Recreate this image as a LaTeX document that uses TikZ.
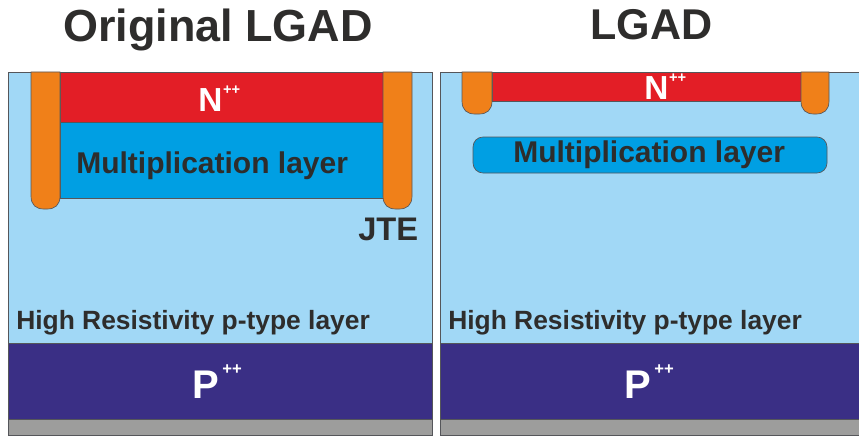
\documentclass[tikz,border=0pt]{standalone}
\usepackage{fontspec}
\setmainfont{Liberation Sans}
\usepackage{xcolor}
\definecolor{substrate}{HTML}{A1D8F6}
\definecolor{nlayer}{HTML}{E31E26}
\definecolor{gainlayer}{HTML}{009FE3}
\definecolor{jtecolor}{HTML}{F08019}
\definecolor{player}{HTML}{3A2F85}
\definecolor{backside}{HTML}{9D9D9C}
\definecolor{ink}{HTML}{2E2D2C}
\definecolor{edge}{HTML}{55565A}
\newcommand{\nplus}{\kern0.5pt\raisebox{12.5pt}{\fontsize{11}{12}\selectfont ++}}
\newcommand{\pplus}{\kern2.5pt\raisebox{17.5pt}{\fontsize{12.5}{14}\selectfont ++}}
\usetikzlibrary{positioning}

\begin{document}
\begin{tikzpicture}[
  x=0.75pt, y=-0.75pt,
  every node/.style={anchor=base west, inner sep=0pt, font=\bfseries, text=ink},
  layer/.style={draw=edge, line width=0.5pt},
  jte/.style={layer, fill=jtecolor},
  title/.style={font=\bfseries\fontsize{33.7}{36}\selectfont},
  gain/.style={font=\bfseries\fontsize{22.5}{24}\selectfont},
  bulk/.style={font=\bfseries\fontsize{19.8}{22}\selectfont},
  doping/.style={font=\bfseries\fontsize{25}{28}\selectfont, text=white},
  backdoping/.style={font=\bfseries\fontsize{30}{33}\selectfont, text=white},
]
  \useasboundingbox (0,0) rectangle (859,435);

  % left device
  \draw[layer, fill=substrate] (8,72) rectangle (432,435);
  \draw[layer, fill=player] (8,343) rectangle (432,419);
  \draw[layer, fill=backside] (8,419) rectangle (432,435);
  \draw[layer, fill=nlayer] (60,72) rectangle (383,122);
  \draw[layer, fill=gainlayer] (60,122) rectangle (383,198);
  \draw[jte] (31,72) -- (31,196) .. controls (31,205) and (36,209) .. (44,209) -- (47,209) .. controls (55,209) and (60,205) .. (60,196) -- (60,72) -- cycle;
  \draw[jte] (383,72) -- (383,196) .. controls (383,205) and (388,209) .. (396,209) -- (399,209) .. controls (407,209) and (412,205) .. (412,196) -- (412,72) -- cycle;

  % right device
  \draw[layer, fill=substrate] (440,72) rectangle (859,435);
  \draw[layer, fill=player] (440,343) rectangle (859,419);
  \draw[layer, fill=backside] (440,419) rectangle (859,435);
  \draw[layer, fill=nlayer] (492,72) rectangle (801,101);
  \draw[jte] (462,72) -- (462,101) .. controls (462,110) and (467,114) .. (475,114) -- (479,114) .. controls (487,114) and (492,110) .. (492,101) -- (492,72) -- cycle;
  \draw[jte] (801,72) -- (801,101) .. controls (801,110) and (806,114) .. (814,114) -- (816,114) .. controls (824,114) and (829,110) .. (829,101) -- (829,72) -- cycle;
  \draw[layer, fill=gainlayer, rounded corners=7.5pt] (473,137) rectangle (827,173);

  % labels
  \node[title] (titleleft) at (63,41) {Original LGAD};
  \node[title, font=\bfseries\fontsize{32.3}{36}\selectfont] (titleright) at (590,40) {LGAD};
  \node[doping] (nleft) at (198,111) {N\nplus};
  \node[doping] (nright) at (644,99) {N\nplus};
  \node[gain] (gainleft) at (76,173) {Multiplication layer};
  \node[gain] (gainright) at (513,162) {Multiplication layer};
  \node[font=\bfseries\fontsize{24.5}{27}\selectfont] (jtelabel) at (358,240) {JTE};
  \node[bulk] (bulkleft) at (16,329) {High Resistivity p-type layer};
  \node[bulk] (bulkright) at (448,329) {High Resistivity p-type layer};
  \node[backdoping] (pleft) at (192,398) {P\pplus};
  \node[backdoping] (pright) at (624,398) {P\pplus};
\end{tikzpicture}
\end{document}
